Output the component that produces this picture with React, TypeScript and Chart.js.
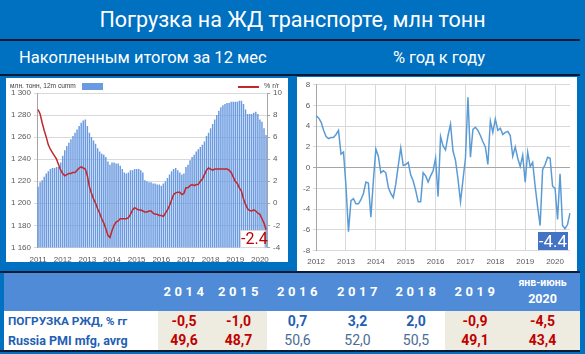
import React, { useEffect, useRef } from 'react';
import { Chart, registerables } from 'chart.js';

Chart.register(...registerables);

// ---------- Left chart: 12-month cumulative loading (mln t) and % y/y ----------
const LEFT_START_YEAR = 2011;
const cumm2011 = [1215, 1219, 1221, 1224, 1227, 1229, 1231, 1232, 1232, 1233, 1233, 1237];
const cumm2012 = [1243, 1248, 1252, 1255, 1258, 1261, 1264, 1267, 1270, 1273, 1275, 1276];
const cumm2013 = [1270, 1264, 1260, 1257, 1254, 1250, 1247, 1245, 1244, 1242, 1238, 1235];
const cumm2014 = [1237, 1237, 1236, 1236, 1234, 1231, 1228, 1227, 1228, 1230, 1230, 1231];
const cumm2015 = [1231, 1231, 1230, 1228, 1221, 1220, 1219, 1219, 1218, 1218, 1217, 1217];
const cumm2016 = [1216, 1218, 1220, 1223, 1226, 1229, 1231, 1232, 1230, 1228, 1226, 1227];
const cumm2017 = [1233, 1235, 1239, 1242, 1244, 1247, 1249, 1251, 1253, 1256, 1261, 1264];
const cumm2018 = [1268, 1272, 1276, 1280, 1284, 1287, 1289, 1290, 1291, 1291, 1292, 1292];
const cumm2019 = [1292, 1292, 1293, 1293, 1290, 1285, 1281, 1281, 1281, 1282, 1283, 1281];
const cumm2020 = [1276, 1274, 1268, 1262];
const leftCumm = [
  ...cumm2011, ...cumm2012, ...cumm2013, ...cumm2014, ...cumm2015,
  ...cumm2016, ...cumm2017, ...cumm2018, ...cumm2019, ...cumm2020,
];

const yoy2011 = [8.5, 8.1, 7.3, 6.6, 6.0, 5.3, 4.9, 4.6, 4.3, 4.0, 3.5, 3.0];
const yoy2012 = [2.7, 2.5, 2.6, 2.7, 2.7, 2.8, 2.8, 3.0, 3.2, 3.3, 3.2, 3.1];
const yoy2013 = [2.5, 1.5, 0.9, 0.4, 0.0, -0.5, -0.9, -1.4, -1.8, -2.3, -2.9, -3.1];
const yoy2014 = [-2.5, -2.0, -1.7, -1.6, -1.4, -1.4, -1.4, -1.4, -1.3, -1.0, -0.6, -0.4];
const yoy2015 = [-0.5, -0.6, -0.6, -0.7, -0.8, -0.8, -0.7, -0.7, -0.9, -1.0, -1.0, -1.1];
const yoy2016 = [-1.1, -1.2, -0.9, -0.6, -0.2, 0.3, 0.8, 0.95, 1.0, 1.0, 0.8, 0.9];
const yoy2017 = [1.4, 1.4, 1.6, 1.7, 1.6, 1.7, 1.7, 2.0, 2.2, 2.6, 3.0, 3.2];
const yoy2018 = [3.1, 3.0, 3.1, 3.1, 3.1, 3.1, 3.1, 3.1, 3.1, 3.0, 2.8, 2.4];
const yoy2019 = [2.0, 1.8, 1.4, 1.1, 0.4, -0.1, -0.5, -0.65, -0.7, -0.6, -0.7, -0.9];
const yoy2020 = [-1.0, -1.4, -1.8, -2.4];
const leftYoY = [
  ...yoy2011, ...yoy2012, ...yoy2013, ...yoy2014, ...yoy2015,
  ...yoy2016, ...yoy2017, ...yoy2018, ...yoy2019, ...yoy2020,
];
const leftLastLabel = '-2.4';

// ---------- Right chart: monthly % y/y ----------
const RIGHT_START_YEAR = 2012;
const m2012 = [5.0, 4.8, 4.4, 3.6, 3.0, 2.8, 2.9, 2.9, 3.2, 3.6, 1.3, 1.5];
const m2013 = [-1.8, -6.2, -3.2, -3.0, -3.5, -3.5, -3.1, -2.5, -1.4, -1.5, -4.8, -1.3];
const m2014 = [1.8, 1.1, -0.5, -0.3, -0.5, -1.9, -2.5, -2.9, -1.6, 0.2, 1.9, 0.2];
const m2015 = [0.3, 0.5, -0.7, -1.3, -2.2, -3.3, -3.3, -0.5, -0.8, -1.4, -0.8, -0.3];
const m2016 = [0.9, -2.8, 3.0, 2.1, 1.7, 3.1, 4.2, 1.6, 0.7, -1.1, -3.3, -1.2];
const m2017 = [0.9, 6.8, 1.0, 3.7, 3.9, 3.6, 3.1, 2.5, 2.0, 0.3, 4.5, 3.4];
const m2018 = [4.7, 3.6, 3.8, 3.2, 3.4, 3.5, 3.1, 1.1, 2.0, 0.9, 0.1, 1.2];
const m2019 = [-1.4, 1.5, 0.1, 0.5, -1.8, -3.8, -5.6, -0.2, 0.3, 1.0, 0.9, -1.8];
const m2020 = [-2.0, -5.0, -0.6, -5.6, -5.9, -5.5, -4.4];
const rightYoY = [
  ...m2012, ...m2013, ...m2014, ...m2015, ...m2016,
  ...m2017, ...m2018, ...m2019, ...m2020,
];
const rightLastLabel = '-4.4';

// ---------- Table ----------
const tableYears = ['2014', '2015', '2016', '2017', '2018', '2019', '2020'];
const lastColHeader = 'янв-июнь';
const loadingValues = [-0.5, -1.0, 0.7, 3.2, 2.0, -0.9, -4.5];
const pmiValues = [49.6, 48.7, 50.6, 52.0, 50.5, 49.1, 43.4];
const rowLabels = ['ПОГРУЗКА РЖД, % гг', 'Russia PMI mfg, avrg'];

const monthLabels = (start: number, n: number) =>
  Array.from({ length: n }, (_, i) => `${start + Math.floor(i / 12)}-${String((i % 12) + 1).padStart(2, '0')}`);

const leftLabels = monthLabels(LEFT_START_YEAR, leftCumm.length);
const rightLabels = monthLabels(RIGHT_START_YEAR, rightYoY.length);

const tickFont = { family: '"Liberation Sans", Arial, sans-serif', size: 8 };
const tickColor = '#595959';
const fmtThousands = (v: number | string) => {
  const s = String(v);
  return s.length > 3 ? s.slice(0, s.length - 3) + ' ' + s.slice(-3) : s;
};
const fmtComma = (v: number) => v.toFixed(1).replace('.', ',');

const colEdges = [158, 210, 267, 328, 387, 445, 505, 580];
const highlight = [true, true, false, false, false, true, true];
const DIV = '#0B1B33';

export default function App() {
  const leftRef = useRef<HTMLCanvasElement>(null);
  const rightRef = useRef<HTMLCanvasElement>(null);

  useEffect(() => {
    document.body.style.margin = '0';
    const c1 = new Chart(leftRef.current!, {
      type: 'bar',
      data: {
        labels: leftLabels,
        datasets: [
          {
            type: 'line',
            label: '% г/г',
            data: leftYoY,
            yAxisID: 'y1',
            borderColor: '#C0282D',
            borderWidth: 1.5,
            pointRadius: 0,
            order: 0,
          } as any,
          {
            type: 'bar',
            label: 'млн. тонн, 12m cumm',
            data: leftCumm,
            yAxisID: 'y',
            backgroundColor: '#6A9AE0',
            barPercentage: 0.72,
            categoryPercentage: 1,
            order: 1,
          },
        ],
      },
      options: {
        animation: false,
        responsive: false,
        layout: { padding: { top: 15, right: 3, left: 2, bottom: -3 } },
        plugins: { legend: { display: false }, tooltip: { enabled: false } },
        scales: {
          x: {
            grid: { display: false },
            border: { display: false },
            ticks: {
              autoSkip: false,
              maxRotation: 0,
              font: tickFont,
              color: tickColor,
              padding: 0,
              callback: (_v: any, i: number) => (i % 12 === 0 ? leftLabels[i].slice(0, 4) : ''),
            },
          },
          y: {
            position: 'left',
            min: 1160,
            max: 1300,
            ticks: { stepSize: 20, font: tickFont, color: tickColor, callback: (v: any) => fmtThousands(v) },
            grid: { color: '#D9D9D9', tickLength: 3 },
            border: { color: '#A6A6A6' },
          },
          y1: {
            position: 'right',
            min: -4,
            max: 10,
            ticks: { stepSize: 2, font: tickFont, color: tickColor },
            grid: { drawOnChartArea: false, color: '#A6A6A6', tickLength: 3 },
            border: { color: '#A6A6A6' },
          },
        },
      },
    });

    const c2 = new Chart(rightRef.current!, {
      type: 'line',
      data: {
        labels: rightLabels,
        datasets: [
          {
            label: '% год к году',
            data: rightYoY,
            borderColor: '#5B9BD5',
            borderWidth: 1.5,
            pointRadius: 0,
          },
        ],
      },
      options: {
        animation: false,
        responsive: false,
        layout: { padding: { top: 2, right: 1, left: 3, bottom: -3 } },
        plugins: { legend: { display: false }, tooltip: { enabled: false } },
        scales: {
          x: {
            grid: {
              color: (c: any) => (c.index % 12 === 0 ? '#D9D9D9' : 'rgba(0,0,0,0)'),
              drawTicks: false,
            },
            border: { display: false },
            ticks: {
              autoSkip: false,
              maxRotation: 0,
              font: tickFont,
              color: tickColor,
              padding: 7,
              callback: (_v: any, i: number) => (i % 12 === 0 ? rightLabels[i].slice(0, 4) : ''),
            },
          },
          y: {
            min: -8,
            max: 8,
            ticks: { stepSize: 2, font: tickFont, color: tickColor },
            grid: {
              color: (c: any) => (c.tick && c.tick.value === 0 ? '#A6A6A6' : '#D9D9D9'),
              tickLength: 3,
            },
            border: { color: '#A6A6A6' },
          },
        },
      },
    });

    return () => {
      c1.destroy();
      c2.destroy();
    };
  }, []);

  const abs = (l: number, t: number, w: number, h: number, extra: React.CSSProperties = {}): React.CSSProperties => ({
    position: 'absolute',
    left: l,
    top: t,
    width: w,
    height: h,
    ...extra,
  });

  const renderRow = (top: number, h: number, label: string, labelSize: number, values: number[], kind: 'load' | 'pmi') => (
    <>
      <div
        style={abs(4, top, colEdges[0] - 4, h, {
          background: '#FFFFFF',
          color: '#1F5FB4',
          fontWeight: 700,
          fontSize: labelSize,
          lineHeight: `${h}px`,
          paddingLeft: 4,
          boxSizing: 'border-box',
          whiteSpace: 'nowrap',
        })}
      >
        {label}
      </div>
      {values.map((v, i) => {
        const bad = kind === 'load' ? v < 0 : v < 50;
        const color = bad ? '#C00000' : kind === 'load' ? '#1F5FB4' : '#4A6C96';
        const weight = bad || kind === 'load' ? 700 : 400;
        return (
          <div
            key={i}
            style={abs(colEdges[i], top, colEdges[i + 1] - colEdges[i], h, {
              background: highlight[i] ? '#EEECE1' : '#FFFFFF',
              color,
              fontWeight: weight,
              fontSize: 14,
              lineHeight: `${h}px`,
              textAlign: 'center',
            })}
          >
            {fmtComma(v)}
          </div>
        );
      })}
    </>
  );

  return (
    <div
      style={{
        position: 'absolute',
        left: 0,
        top: 0,
        width: 585,
        height: 354,
        background: '#0070C0',
        overflow: 'hidden',
        fontFamily: 'Roboto, "Noto Sans", sans-serif',
      }}
    >
      <div style={abs(0, 0, 585, 39, { color: '#fff', fontSize: 21.5, lineHeight: '39px', textAlign: 'center' })}>
        Погрузка на ЖД транспорте, млн тонн
      </div>
      <div style={abs(0, 39, 580, 2, { background: DIV })} />
      <div style={abs(19, 41, 280, 33, { color: '#fff', fontSize: 16.5, lineHeight: '33px', whiteSpace: 'nowrap' })}>
        Накопленным итогом за 12 мес
      </div>
      <div style={abs(339, 41, 200, 33, { color: '#fff', fontSize: 16.5, lineHeight: '33px', textAlign: 'center' })}>
        % год к году
      </div>
      <div style={abs(0, 74, 580, 2, { background: DIV })} />

      {/* Left panel */}
      <div style={abs(6, 78, 282, 184, { background: '#fff' })}>
        <canvas ref={leftRef} width={282} height={184} style={{ position: 'absolute', left: 0, top: 0 }} />
        <div style={abs(4, 3, 70, 10, { fontSize: 6.6, color: '#404040', lineHeight: '10px', whiteSpace: 'nowrap', fontFamily: '"Liberation Sans", Arial, sans-serif' })}>
          млн. тонн, 12m cumm
        </div>
        <div style={abs(76, 5, 21, 7, { background: '#6A9AE0' })} />
        <div style={abs(232, 8, 21, 1.5, { background: '#C0282D' })} />
        <div style={abs(258, 3, 24, 10, { fontSize: 7, color: '#404040', lineHeight: '10px', whiteSpace: 'nowrap', fontFamily: '"Liberation Sans", Arial, sans-serif' })}>
          % г/г
        </div>
        <div
          style={abs(234, 152, 25, 18, {
            background: '#fff',
            border: '1px solid #D9D9D9',
            boxSizing: 'border-box',
            color: '#C00000',
            fontSize: 16,
            lineHeight: '16px',
            textAlign: 'center',
          })}
        >
          {leftLastLabel}
        </div>
      </div>

      {/* Right panel */}
      <div style={abs(297, 77, 280, 194, { background: '#fff' })}>
        <canvas ref={rightRef} width={280} height={194} style={{ position: 'absolute', left: 0, top: 0 }} />
        <div
          style={abs(241, 155, 30, 18, {
            background: '#4472C4',
            color: '#fff',
            fontSize: 17,
            lineHeight: '18px',
            textAlign: 'center',
          })}
        >
          {rightLastLabel}
        </div>
      </div>

      <div style={abs(0, 271, 580, 2, { background: DIV })} />

      {/* Table */}
      <div style={abs(4, 273, 576, 38, { background: '#4F8BD6' })} />
      {tableYears.map((y, i) => {
        const isLast = i === tableYears.length - 1;
        const w = colEdges[i + 1] - colEdges[i];
        return isLast ? (
          <div key={y} style={abs(colEdges[i], 273, w, 38, { color: '#fff', fontWeight: 700, textAlign: 'center' })}>
            <div style={{ fontSize: 10.5, lineHeight: '12px', marginTop: 4 }}>{lastColHeader}</div>
            <div style={{ fontSize: 12.5, lineHeight: '14px', marginTop: 3 }}>{y}</div>
          </div>
        ) : (
          <div
            key={y}
            style={abs(colEdges[i], 273, w, 38, {
              color: '#fff',
              fontWeight: 700,
              fontSize: 13,
              letterSpacing: 3.5,
              lineHeight: '38px',
              textAlign: 'center',
              paddingLeft: 3,
              boxSizing: 'border-box',
            })}
          >
            {y}
          </div>
        );
      })}
      {renderRow(311, 20, rowLabels[0], 11.8, loadingValues, 'load')}
      {renderRow(331, 19, rowLabels[1], 12.5, pmiValues, 'pmi')}
      <div style={abs(0, 350, 580, 2, { background: DIV })} />
    </div>
  );
}
